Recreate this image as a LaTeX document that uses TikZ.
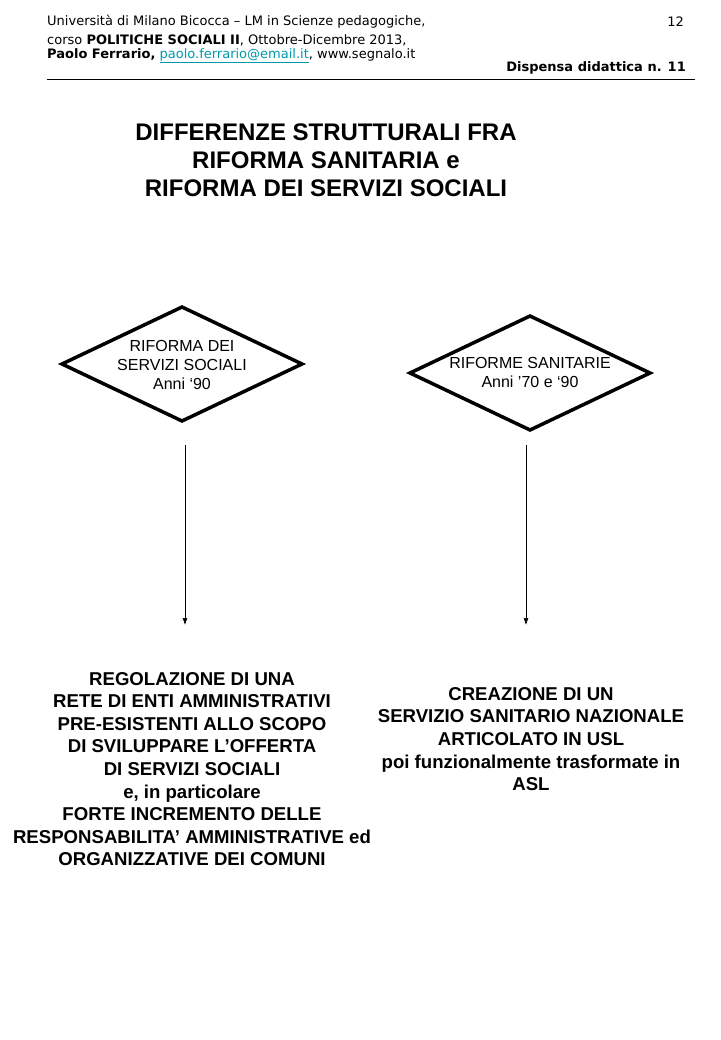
\documentclass[tikz,border=0pt]{standalone}
\usepackage{fontspec}
\usetikzlibrary{arrows.meta}
\setmainfont{Liberation Sans}
\newfontfamily\hdr{DejaVu Sans}
\begin{document}
\begin{tikzpicture}[x=1pt,y=-1pt,
 hd/.style={anchor=west,inner sep=0,font=\hdr\fontsize{13}{15}\selectfont},
 dia/.style={line width=3.5pt,line join=miter},
 dtxt/.style={align=center,font=\fontsize{16}{19}\selectfont,inner sep=0},
 body/.style={align=center,font=\bfseries\fontsize{18.6}{22.6}\selectfont,inner sep=0},
 arr/.style={-{Latex[length=7pt,width=5pt]},line width=0.6pt}]
\useasboundingbox (0,0) rectangle (720,1040);
\node[hd] (h1) at (47,22) {Università di Milano Bicocca – LM in Scienze pedagogiche,};
\node[hd] (h2) at (47,40) {corso \textbf{POLITICHE SOCIALI II}, Ottobre-Dicembre 2013,};
\node[hd] (h3) at (47,56) {\textbf{Paolo Ferrario,} \textcolor[HTML]{0099A8}{\underline{paolo.ferrario@email.it}}, www.segnalo.it};
\node[hd,anchor=east] (pg) at (684,22) {12};
\node[hd,anchor=east] (dd) at (686,68) {\textbf{Dispensa didattica n. 11}};
\draw[line width=0.6pt] (47,79) -- (695,79);
\node[align=center,font=\bfseries\fontsize{24}{28}\selectfont,inner sep=0] (title) at (326,160)
 {DIFFERENZE STRUTTURALI FRA\\RIFORMA SANITARIA e\\RIFORMA DEI SERVIZI SOCIALI};
\draw[dia] (62,364) -- (182,307) -- (302,364) -- (182,421) -- cycle;
\node[dtxt] (d1) at (182,365) {RIFORMA DEI\\SERVIZI SOCIALI\\Anni ‘90};
\draw[dia] (410,373) -- (530,316) -- (650,373) -- (530,430) -- cycle;
\node[dtxt] (d2) at (530,372) {RIFORME SANITARIE\\Anni ’70 e ‘90};
\coordinate (a1s) at (185,445); \coordinate (a1e) at (185,625);
\coordinate (a2s) at (526,445); \coordinate (a2e) at (526,625);
\draw[arr] (a1s) -- (a1e);
\draw[arr] (a2s) -- (a2e);
\node[body] (b1) at (192,769) {REGOLAZIONE DI UNA\\RETE DI ENTI AMMINISTRATIVI\\PRE-ESISTENTI ALLO SCOPO\\DI SVILUPPARE L’OFFERTA\\DI SERVIZI SOCIALI\\e, in particolare\\FORTE INCREMENTO DELLE\\RESPONSABILITA’ AMMINISTRATIVE ed\\ORGANIZZATIVE DEI COMUNI};
\node[body] (b2) at (531,739) {CREAZIONE DI UN\\SERVIZIO SANITARIO NAZIONALE\\ARTICOLATO IN USL\\poi funzionalmente trasformate in\\ASL};
\end{tikzpicture}
\end{document}
